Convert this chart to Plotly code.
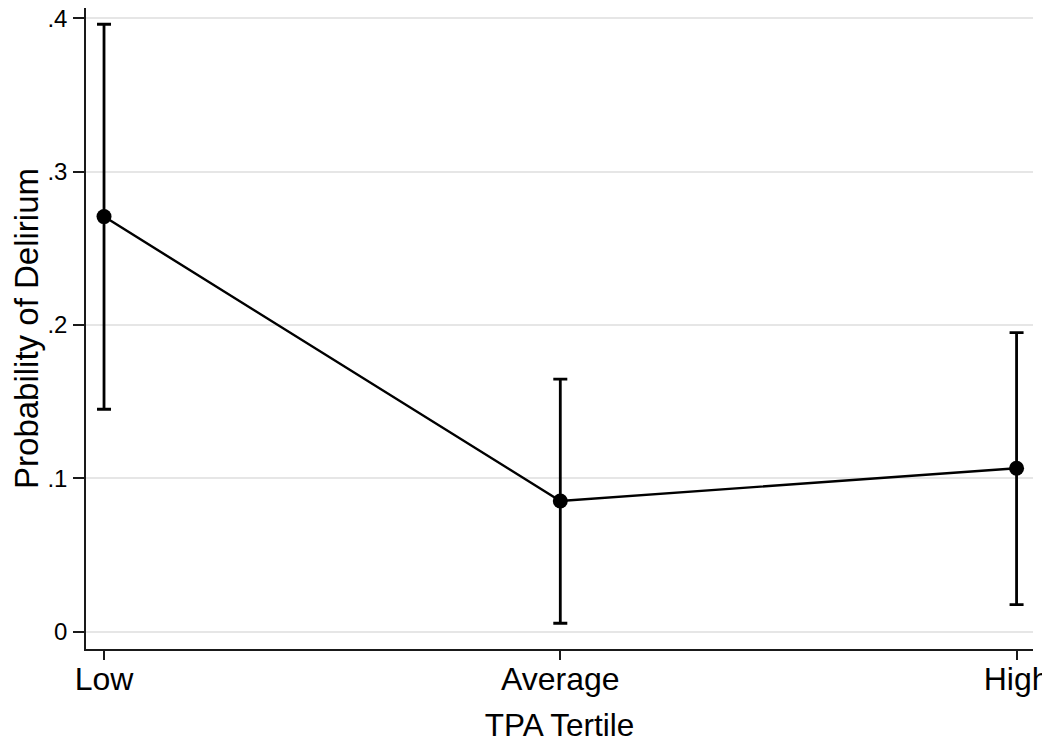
"""
Predicted probability of delirium by TPA tertile (point estimate with 95% CI)
"""

import plotly.graph_objects as go

# ---------- Data ----------

tertiles = ["Low", "Average", "High"]
probability = [0.2706, 0.0852, 0.1065]
ci_lower = [0.145, 0.0055, 0.0176]
ci_upper = [0.396, 0.1647, 0.195]

y_tick_values = [0, 0.1, 0.2, 0.3, 0.4]
y_tick_labels = ["0", ".1", ".2", ".3", ".4"]

FONT = "Arial, 'Liberation Sans', sans-serif"
INK = "#000000"
AXIS_COLOR = "#1a1a1a"
GRID_COLOR = "#e6e6e6"

err_plus = [hi - p for hi, p in zip(ci_upper, probability)]
err_minus = [p - lo for lo, p in zip(ci_lower, probability)]

fig = go.Figure()

fig.add_trace(go.Scatter(
    x=tertiles,
    y=probability,
    mode="lines+markers",
    line=dict(color=INK, width=2.4),
    marker=dict(size=15, color=INK),
    error_y=dict(
        type="data",
        array=err_plus,
        arrayminus=err_minus,
        color=INK,
        thickness=2.8,
        width=7,
    ),
    showlegend=False,
))

# the page body adds an 8px offset, so margins are shifted to compensate
fig.update_layout(
    width=1050,
    height=739,
    paper_bgcolor="white",
    plot_bgcolor="white",
    margin=dict(l=78, r=25, t=0, b=98),
    font=dict(family=FONT, color=INK),
)

fig.update_xaxes(
    type="category",
    categoryorder="array",
    categoryarray=tertiles,
    range=[-0.0395, 2.036],
    automargin=False,
    showgrid=False,
    showline=True,
    linecolor=AXIS_COLOR,
    linewidth=1.5,
    ticks="outside",
    ticklen=9,
    tickwidth=1.5,
    tickcolor=AXIS_COLOR,
    tickfont=dict(size=32, color=INK),
    ticklabelstandoff=-8,
    ticklabeloverflow="allow",
    title=dict(text="TPA Tertile", font=dict(size=31.5, color=INK), standoff=18),
)

fig.update_yaxes(
    range=[-0.0113, 0.4066],
    tickvals=y_tick_values,
    ticktext=y_tick_labels,
    automargin=False,
    showgrid=True,
    gridcolor=GRID_COLOR,
    gridwidth=2,
    zeroline=False,
    showline=True,
    linecolor=AXIS_COLOR,
    linewidth=1.5,
    ticks="outside",
    ticklen=11,
    tickwidth=1.5,
    tickcolor=AXIS_COLOR,
    tickfont=dict(size=24, color=INK),
    ticklabelstandoff=1,
    ticklabeloverflow="allow",
    title=dict(text="Probability of Delirium", font=dict(size=33, color=INK), standoff=21),
)

fig.write_html("out.html")
